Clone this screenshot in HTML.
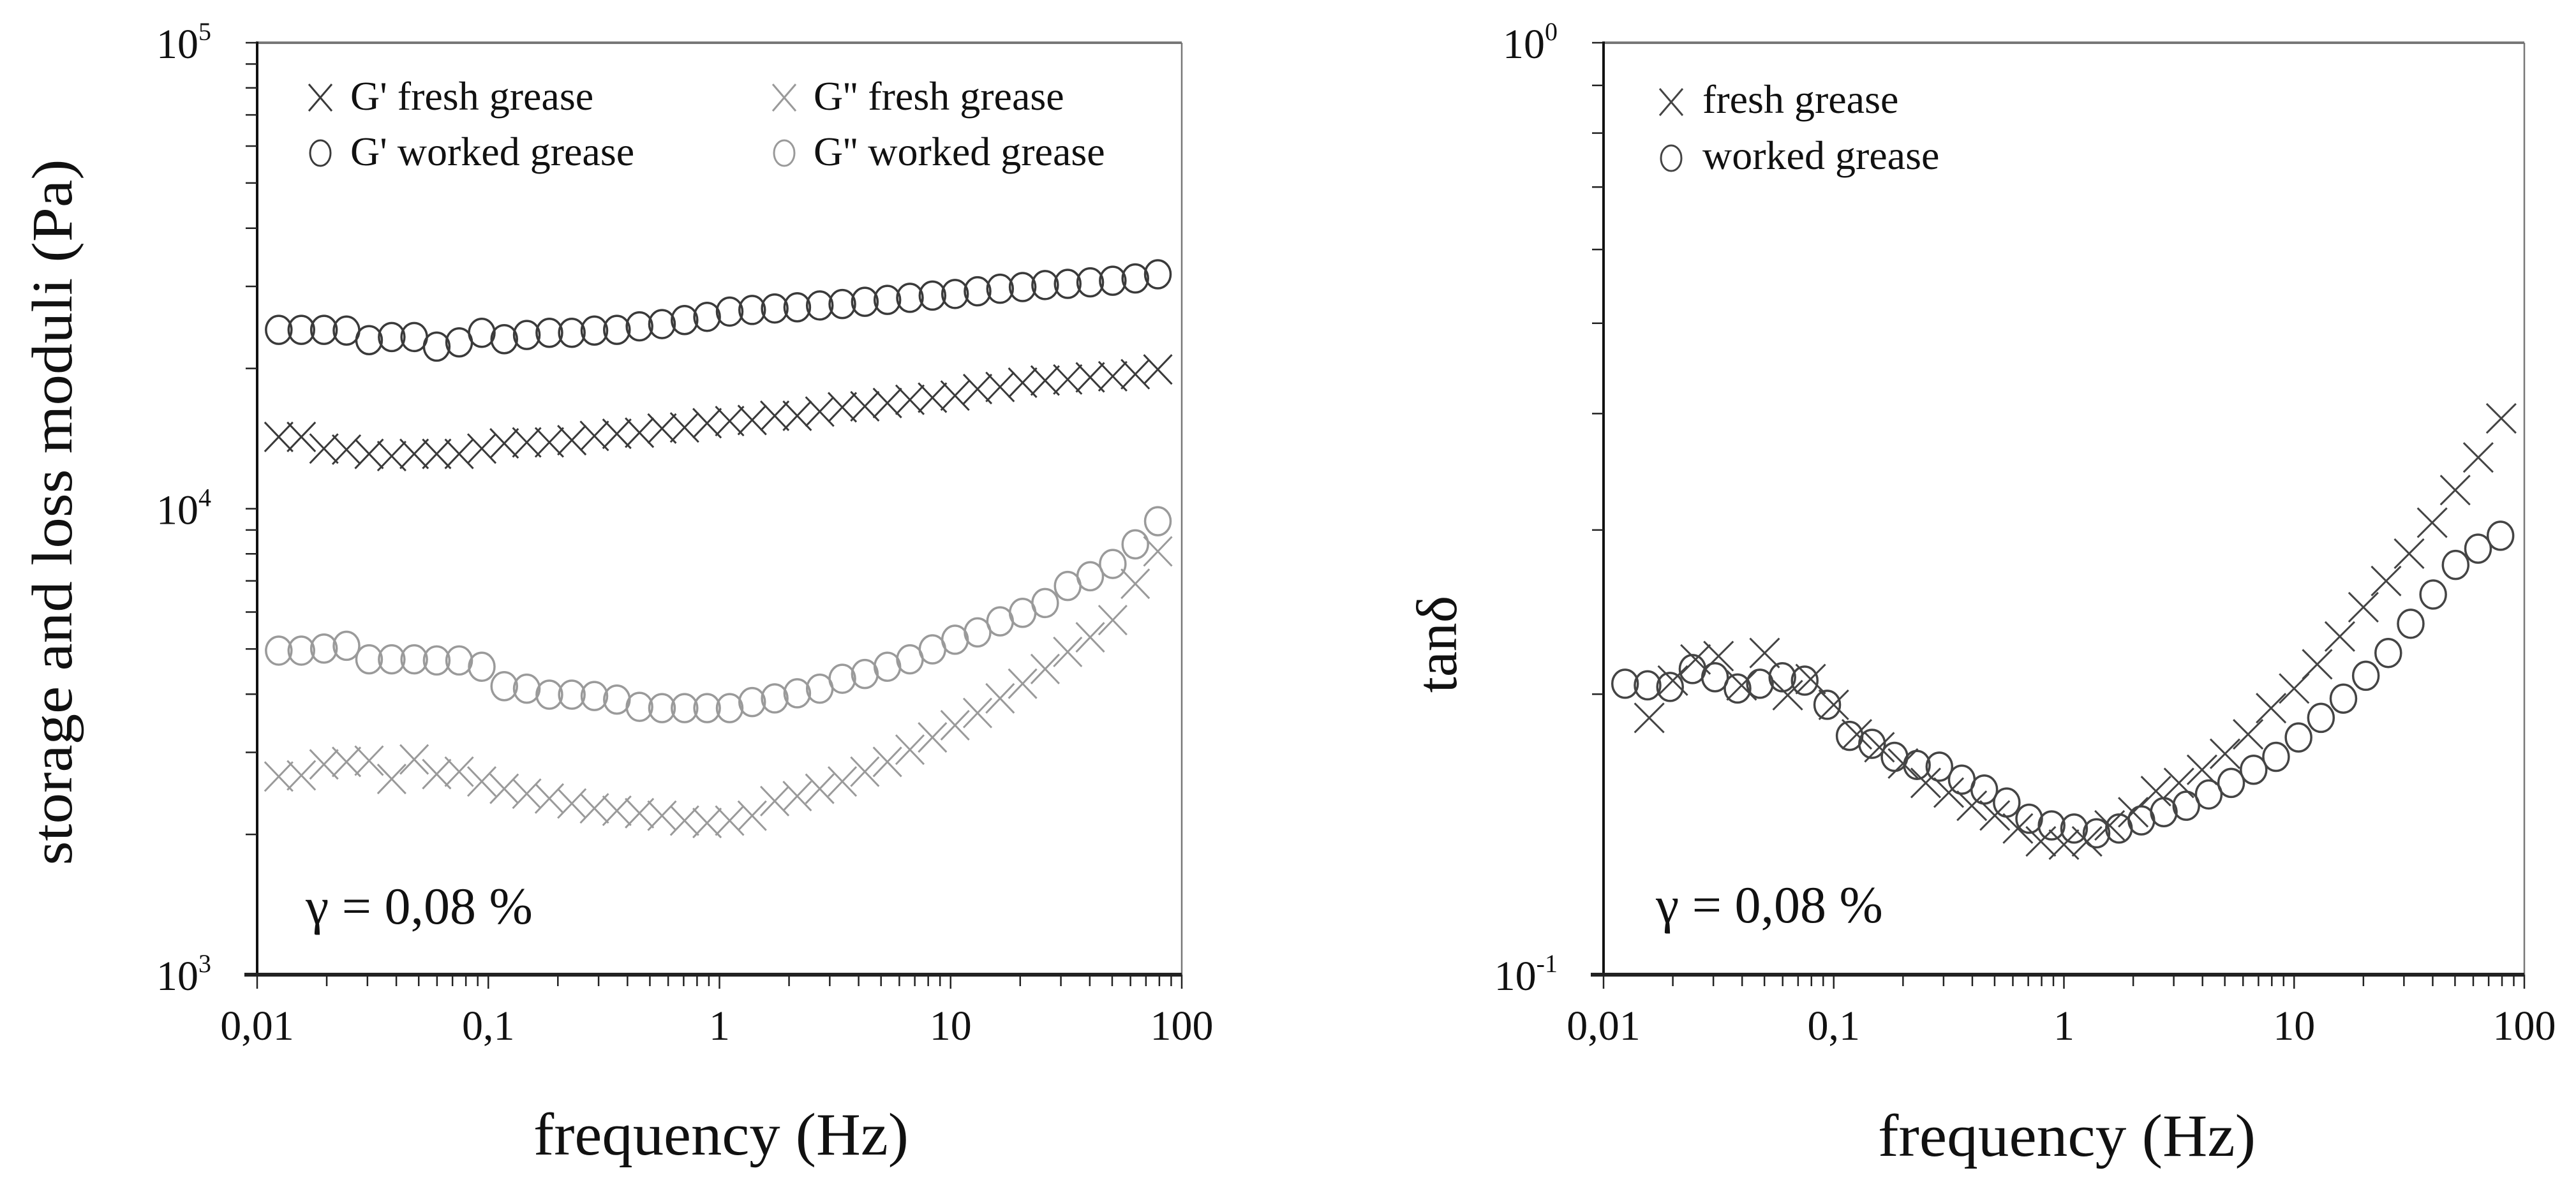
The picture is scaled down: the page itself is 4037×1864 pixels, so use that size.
<!DOCTYPE html>
<html><head><meta charset="utf-8"><title>Grease rheology</title>
<style>
html,body{margin:0;padding:0;background:#fff;}
svg{display:block;font-family:"Liberation Serif","DejaVu Serif",serif;}
</style></head>
<body>
<svg id="fig" width="4037" height="1864" viewBox="0 0 4037 1864" xmlns="http://www.w3.org/2000/svg">
<g id="left"></g>
<g id="right"></g>
</svg>
<script>
// ---- data ----
const freqLeft = [0.0124,0.01553,0.01945,0.02435,0.0305,0.0382,0.0478,0.0598,0.0748,0.0937,0.1172,0.1467,0.1837,0.2298,0.2877,0.360,0.4508,0.5642,0.7063,0.884,1.107,1.385,1.734,2.170,2.716,3.400,4.256,5.327,6.668,8.346,10.45,13.08,16.37,20.49,25.64,32.10,40.18,50.29,62.95,78.80];
const gpFresh = [14260,14260,13460,13390,13110,12970,13110,13110,13110,13460,13810,13880,13880,14030,14330,14480,14560,14860,14940,15260,15420,15500,15830,15830,16160,16510,16590,16860,17130,17310,17490,18060,18250,18640,18840,18940,19140,19240,19440,19900];
const gpWorked = [24200,24200,24200,24110,23000,23360,23360,22280,22750,23850,23110,23600,23850,23850,24110,24200,24620,24900,25400,25810,26490,26700,26900,27050,27300,27490,27800,28060,28350,28670,28900,29280,29650,29900,30200,30380,30600,30850,31200,31850];
const gppFresh = [2662,2678,2827,2862,2879,2630,2897,2694,2727,2598,2506,2446,2388,2330,2275,2248,2221,2194,2141,2116,2141,2194,2358,2417,2506,2598,2727,2862,3040,3230,3430,3644,3917,4212,4529,4928,5298,5767,6900,8100];
const gppWorked = [4960,4960,5010,5080,4750,4750,4750,4725,4725,4580,4160,4110,3990,3990,3963,3894,3757,3733,3733,3733,3733,3846,3917,4016,4110,4316,4419,4580,4750,4990,5235,5427,5730,5978,6275,6826,7163,7612,8386,9400];
const freqRightFresh = [0.0158,0.02,0.0251,0.0316,0.0398,0.0501,0.0631,0.0794,0.1,0.126,0.158,0.2,0.251,0.316,0.398,0.501,0.631,0.794,1,1.26,1.58,2,2.51,3.16,3.98,5.01,6.31,7.94,10,12.6,15.8,20,25.1,31.6,39.8,50.1,63.1,79.4];
const tanFresh = [0.1886,0.2068,0.2179,0.2197,0.2044,0.2214,0.1995,0.2076,0.1948,0.1811,0.1754,0.1685,0.1606,0.1568,0.1518,0.1482,0.1435,0.139,0.1379,0.139,0.1446,0.1494,0.1574,0.1606,0.1659,0.1726,0.1811,0.1932,0.2028,0.2153,0.2306,0.2479,0.2645,0.283,0.3055,0.3311,0.3589,0.3953];
const freqRightWorked = freqLeft;
const tanWorked = [0.2052,0.2044,0.2036,0.2128,0.2085,0.2028,0.2052,0.2085,0.2068,0.1948,0.1804,0.1769,0.1713,0.1679,0.1672,0.1619,0.158,0.153,0.147,0.1446,0.1435,0.1418,0.1435,0.1464,0.1494,0.1518,0.1561,0.1606,0.1659,0.1713,0.1797,0.1886,0.1978,0.2093,0.2214,0.238,0.2558,0.2752,0.2865,0.2958];
const xTickLabels = ["0,01","0,1","1","10","100"];
const xTickValues = [0.01,0.1,1,10,100];
const leftYTickExp = ["5","4","3"];
const leftYTickValues = [100000,10000,1000];
const rightYTickExp = ["0","-1"];
const rightYTickValues = [1,0.1];

const NS = "http://www.w3.org/2000/svg";
function mk(parent, tag, attrs, text){
  const e = document.createElementNS(NS, tag);
  for (const k in attrs) e.setAttribute(k, attrs[k]);
  if (text !== undefined) e.textContent = text;
  parent.appendChild(e);
  return e;
}
const L = {x0:403, x1:1852, y0:67, y1:1528};
const R = {x0:2513, x1:3956, y0:67, y1:1528};
const xL = f => L.x0 + (Math.log10(f) + 2) * (L.x1 - L.x0) / 4;
const yL = v => L.y1 - (Math.log10(v) - 3) * (L.y1 - L.y0) / 2;
const xR = f => R.x0 + (Math.log10(f) + 2) * (R.x1 - R.x0) / 4;
const yR = v => R.y1 - (Math.log10(v) + 1) * (R.y1 - R.y0) / 1;

function crossMark(g, cx, cy, color, hw, hh){
  const p = mk(g, "path", {d:`M${cx-hw},${cy-hh}L${cx+hw},${cy+hh}M${cx-hw},${cy+hh}L${cx+hw},${cy-hh}`, stroke:color, "stroke-width":3, fill:"none"});
  
  
  return p;
}
function circMark(g, cx, cy, color, rx, ry){
  const c = mk(g, "ellipse", {cx:cx, cy:cy, rx:rx, ry:ry, stroke:color, "stroke-width":3.5, fill:"none"});
  
  
  return c;
}

function drawAxes(g, B, xf, yDecades, yBase, yfun, expLabels, expValues){
  // frame
  const top = mk(g, "line", {x1:B.x0, y1:B.y0, x2:B.x1, y2:B.y0, stroke:"#777", "stroke-width":4});
  
  
  const rgt = mk(g, "line", {x1:B.x1, y1:B.y0, x2:B.x1, y2:B.y1, stroke:"#777", "stroke-width":2.5});
  
  
  const ya = mk(g, "line", {x1:B.x0, y1:B.y0-2, x2:B.x0, y2:B.y1+2, stroke:"#111", "stroke-width":4});
  
  
  const xa = mk(g, "line", {x1:B.x0-20, y1:B.y1, x2:B.x1, y2:B.y1, stroke:"#222", "stroke-width":6});
  
  
  // x ticks
  for (let d = -2; d < 2; d++){
    for (let m = 1; m <= 9; m++){
      const x = xf(m * Math.pow(10, d));
      const t = mk(g, "line", {x1:x, y1:B.y1, x2:x, y2:B.y1 + (m===1?22:18), stroke:"#222", "stroke-width":2.5});
      
      
    }
  }
  const tl = mk(g, "line", {x1:B.x1, y1:B.y1, x2:B.x1, y2:B.y1+22, stroke:"#222", "stroke-width":2.5});
  
  
  xTickValues.forEach((v,i)=>{
    const t = mk(g, "text", {x:xf(v), y:1630, "font-size":66, "text-anchor":"middle", fill:"#111"}, xTickLabels[i]);
    
    
  });
  // y ticks
  for (let d = 0; d < yDecades; d++){
    for (let m = 1; m <= 9; m++){
      const y = yfun(m * Math.pow(10, yBase + d));
      const t = mk(g, "line", {x1:B.x0-18, y1:y, x2:B.x0, y2:y, stroke:"#222", "stroke-width":2.5});
      
      
    }
  }
  const tt = mk(g, "line", {x1:B.x0-18, y1:B.y0, x2:B.x0, y2:B.y0, stroke:"#222", "stroke-width":2.5});
  
  
  expValues.forEach((v,i)=>{
    const y = yfun(v);
    const t = mk(g, "text", {x:B.x0-72, y:y+24, "font-size":66, "text-anchor":"end", fill:"#111"});
    
    
    const a = mk(t, "tspan", {}, "10");
    const b = mk(t, "tspan", {dy:-28, "font-size":40}, expLabels[i]);
  });
}

// LEFT chart
const gl = document.getElementById("left");
drawAxes(gl, L, xL, 2, 3, yL, leftYTickExp, leftYTickValues);
const gGppF = mk(gl, "g", {});  
gppFresh.forEach((v,i)=>crossMark(gGppF, xL(freqLeft[i]), yL(v), "#9a9a9a", 22, 23));
const gGppW = mk(gl, "g", {});  
gppWorked.forEach((v,i)=>circMark(gGppW, xL(freqLeft[i]), yL(v), "#9a9a9a", 20, 22));
const gGpF = mk(gl, "g", {});  
gpFresh.forEach((v,i)=>crossMark(gGpF, xL(freqLeft[i]), yL(v), "#3a3a3a", 22, 23));
const gGpW = mk(gl, "g", {});  
gpWorked.forEach((v,i)=>circMark(gGpW, xL(freqLeft[i]), yL(v), "#3a3a3a", 20, 22));

// RIGHT chart
const gr = document.getElementById("right");
drawAxes(gr, R, xR, 1, -1, yR, rightYTickExp, rightYTickValues);
const gTF = mk(gr, "g", {});  
tanFresh.forEach((v,i)=>crossMark(gTF, xR(freqRightFresh[i]), yR(v), "#444", 23, 23));
const gTW = mk(gr, "g", {});  
tanWorked.forEach((v,i)=>circMark(gTW, xR(freqRightWorked[i]), yR(v), "#444", 20, 22));
</script>
<svg style="position:absolute;left:0;top:0" width="4037" height="1864" viewBox="0 0 4037 1864" xmlns="http://www.w3.org/2000/svg" font-family="Liberation Serif, serif">
  <!-- left legend -->
  <g>
    <g>
      <path d="M484,132L520,174M484,174L520,132" stroke="#3a3a3a" stroke-width="3" fill="none"/>
      <text x="549" y="172" font-size="64" fill="#111">G' fresh grease</text>
    </g>
    <g>
      <ellipse cx="502" cy="240" rx="16" ry="20" stroke="#3a3a3a" stroke-width="3" fill="none"/>
      <text x="549" y="259" font-size="64" fill="#111">G' worked grease</text>
    </g>
    <g>
      <path d="M1211,132L1247,174M1211,174L1247,132" stroke="#9a9a9a" stroke-width="3" fill="none"/>
      <text x="1275" y="172" font-size="64" fill="#111">G'' fresh grease</text>
    </g>
    <g>
      <ellipse cx="1229" cy="240" rx="16" ry="20" stroke="#9a9a9a" stroke-width="3" fill="none"/>
      <text x="1275" y="259" font-size="64" fill="#111">G'' worked grease</text>
    </g>
  </g>
  <text x="479" y="1448" font-size="82" fill="#111">γ = 0,08 %</text>
  <text transform="translate(112,803) rotate(-90)" text-anchor="middle" font-size="90" textLength="1107" lengthAdjust="spacingAndGlyphs" fill="#111">storage and loss moduli (Pa)</text>
  <text x="1130" y="1810" text-anchor="middle" font-size="94" textLength="588" lengthAdjust="spacingAndGlyphs" fill="#111">frequency (Hz)</text>
  <!-- right legend -->
  <g>
    <g>
      <path d="M2601,139L2637,181M2601,181L2637,139" stroke="#444" stroke-width="3" fill="none"/>
      <text x="2668" y="177" font-size="64" fill="#111">fresh grease</text>
    </g>
    <g>
      <ellipse cx="2619" cy="248" rx="16" ry="20" stroke="#444" stroke-width="3" fill="none"/>
      <text x="2668" y="265" font-size="64" fill="#111">worked grease</text>
    </g>
  </g>
  <text x="2595" y="1446" font-size="82" fill="#111">γ = 0,08 %</text>
  <text transform="translate(2282,1010) rotate(-90)" text-anchor="middle" font-size="90" fill="#111">tanδ</text>
  <text x="3239" y="1812" text-anchor="middle" font-size="94" textLength="592" lengthAdjust="spacingAndGlyphs" fill="#111">frequency (Hz)</text>
</svg>
</body></html>
